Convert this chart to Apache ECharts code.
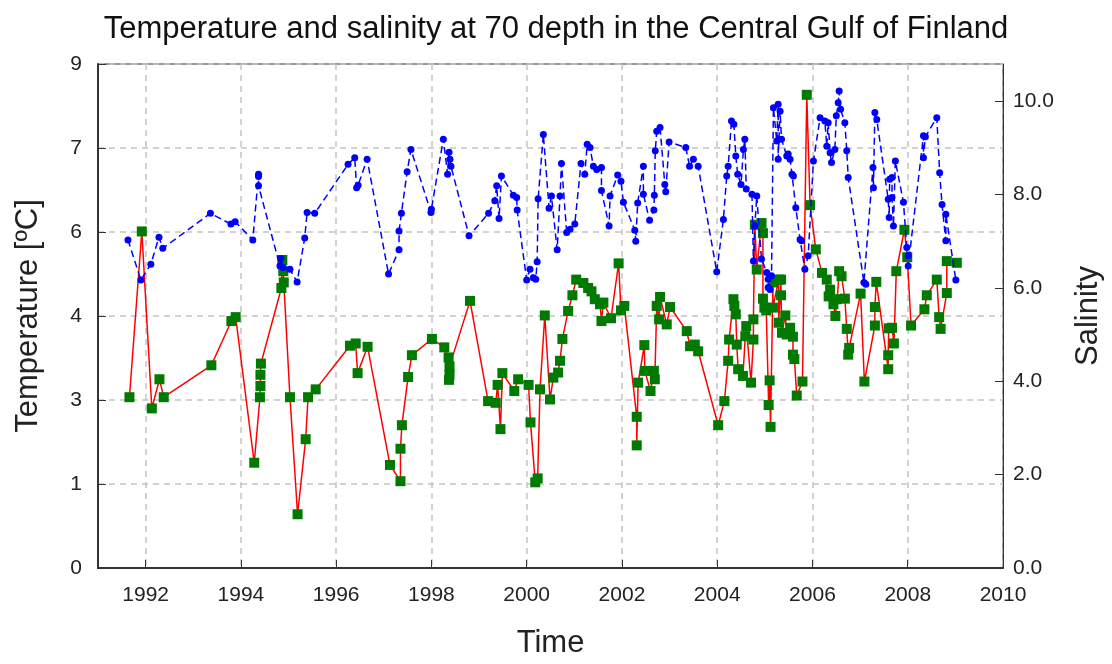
<!DOCTYPE html>
<html>
<head>
<meta charset="utf-8">
<title>Temperature and salinity at 70 depth</title>
<script src="https://cdn.jsdelivr.net/npm/echarts@6/dist/echarts.min.js"></script>
<style>
  html, body { margin: 0; padding: 0; background: #fff; }
  #chart { width: 1112px; height: 664px; }
</style>
</head>
<body>
<div id="chart"></div>
<script>
// temperature at 70 m  [year, degC]  -> left axis
var temperatureData = [
  [1991.66, 3.05], [1991.92, 6.01], [1992.13, 2.85], [1992.29, 3.37], [1992.38, 3.05],
  [1993.38, 3.62], [1993.80, 4.41], [1993.89, 4.48], [1994.28, 1.88],
  [1994.40, 3.05], [1994.41, 3.25], [1994.41, 3.45], [1994.42, 3.65],
  [1994.85, 5.00], [1994.87, 5.50], [1994.89, 5.30], [1994.90, 5.10],
  [1995.03, 3.05], [1995.19, 0.96], [1995.36, 2.30], [1995.41, 3.05], [1995.57, 3.19],
  [1996.29, 3.97], [1996.41, 4.01], [1996.45, 3.48], [1996.66, 3.95],
  [1997.13, 1.84], [1997.35, 1.55], [1997.35, 2.13], [1997.38, 2.55], [1997.51, 3.41], [1997.59, 3.80],
  [1998.01, 4.09], [1998.27, 3.94], [1998.36, 3.76], [1998.37, 3.36], [1998.38, 3.45], [1998.38, 3.60],
  [1998.81, 4.77], [1999.19, 2.98], [1999.35, 2.95], [1999.39, 3.27], [1999.45, 2.48], [1999.49, 3.48],
  [1999.74, 3.16], [1999.82, 3.37], [2000.04, 3.27], [2000.08, 2.60], [2000.18, 1.53], [2000.23, 1.60],
  [2000.28, 3.19], [2000.38, 4.51], [2000.49, 3.01], [2000.56, 3.40], [2000.66, 3.49], [2000.70, 3.70],
  [2000.75, 4.09], [2000.87, 4.59], [2000.96, 4.87], [2001.04, 5.15], [2001.19, 5.09], [2001.29, 5.00],
  [2001.36, 4.94], [2001.43, 4.80], [2001.54, 4.71], [2001.57, 4.41], [2001.61, 4.74], [2001.77, 4.46],
  [2001.93, 5.44], [2001.98, 4.60], [2002.05, 4.68], [2002.31, 2.70], [2002.31, 2.19], [2002.34, 3.31],
  [2002.47, 3.98], [2002.48, 3.52], [2002.60, 3.16], [2002.67, 3.52], [2002.69, 3.37], [2002.73, 4.68],
  [2002.78, 4.44], [2002.80, 4.84], [2002.94, 4.35], [2003.01, 4.66], [2003.36, 4.23], [2003.43, 3.96],
  [2003.53, 3.99], [2003.60, 3.87], [2004.02, 2.55], [2004.15, 2.98], [2004.23, 3.70], [2004.25, 4.08],
  [2004.34, 4.80], [2004.36, 4.68], [2004.39, 4.53], [2004.41, 3.99], [2004.44, 3.55], [2004.54, 3.43],
  [2004.59, 4.14], [2004.61, 4.32], [2004.71, 3.31], [2004.76, 4.08], [2004.76, 4.44], [2004.79, 6.13],
  [2004.83, 5.33], [2004.93, 6.16], [2004.96, 5.98], [2004.96, 4.81], [2004.99, 4.65], [2005.03, 4.60],
  [2005.08, 2.91], [2005.10, 3.35], [2005.12, 2.52], [2005.17, 5.10], [2005.17, 4.65], [2005.29, 5.15],
  [2005.29, 4.38], [2005.34, 5.15], [2005.34, 4.87], [2005.36, 4.20], [2005.43, 4.51], [2005.46, 4.17],
  [2005.53, 4.29], [2005.59, 4.13], [2005.59, 3.81], [2005.62, 3.73], [2005.67, 3.08], [2005.79, 3.33],
  [2005.88, 8.45], [2005.95, 6.48], [2006.07, 5.69], [2006.20, 5.27], [2006.30, 5.15], [2006.34, 4.85],
  [2006.37, 4.97], [2006.44, 4.71], [2006.48, 4.50], [2006.52, 4.80], [2006.56, 5.30], [2006.61, 5.21],
  [2006.68, 4.81], [2006.72, 4.27], [2006.75, 3.81], [2006.77, 3.93], [2007.01, 4.90], [2007.09, 3.33],
  [2007.31, 4.33], [2007.31, 4.66], [2007.34, 5.11], [2007.59, 3.55], [2007.59, 3.80], [2007.60, 4.28],
  [2007.67, 4.29], [2007.71, 4.01], [2007.76, 5.30], [2007.93, 6.04], [2007.99, 5.55], [2008.07, 4.33],
  [2008.35, 4.62], [2008.40, 4.87], [2008.61, 5.15], [2008.66, 4.48], [2008.69, 4.27], [2008.82, 4.91],
  [2008.82, 5.48], [2009.03, 5.45]
];

// salinity at 70 m  [year, psu]  -> right axis
var salinityData = [
  [1991.63, 7.03], [1991.90, 6.17], [1992.11, 6.51], [1992.28, 7.09], [1992.36, 6.85],
  [1993.36, 7.60], [1993.79, 7.37], [1993.88, 7.42], [1994.25, 7.03],
  [1994.37, 8.44], [1994.37, 8.39], [1994.37, 8.19], [1994.82, 6.47], [1994.84, 6.63], [1994.89, 6.44],
  [1995.03, 6.40], [1995.18, 6.13], [1995.34, 7.07], [1995.39, 7.62], [1995.55, 7.60],
  [1996.25, 8.65], [1996.39, 8.79], [1996.43, 8.15], [1996.46, 8.20], [1996.65, 8.76],
  [1997.10, 6.30], [1997.32, 6.82], [1997.32, 7.22], [1997.37, 7.60], [1997.49, 8.49], [1997.57, 8.97],
  [1997.99, 7.62], [1998.00, 7.69], [1998.25, 9.19], [1998.34, 8.44], [1998.37, 8.91], [1998.39, 8.76],
  [1998.41, 8.61], [1998.79, 7.12], [1999.20, 7.60], [1999.33, 7.87], [1999.37, 8.19], [1999.42, 7.49],
  [1999.47, 8.40], [1999.72, 7.99], [1999.79, 7.94], [1999.80, 7.67], [2000.00, 6.17], [2000.07, 6.40],
  [2000.14, 6.22], [2000.19, 6.19], [2000.22, 6.56], [2000.24, 7.91], [2000.35, 9.29], [2000.47, 7.71],
  [2000.52, 7.97], [2000.64, 6.82], [2000.70, 7.97], [2000.73, 8.67], [2000.84, 7.19], [2000.91, 7.26],
  [2001.01, 7.37], [2001.14, 8.67], [2001.22, 8.44], [2001.27, 9.08], [2001.33, 9.01], [2001.40, 8.61],
  [2001.47, 8.54], [2001.57, 8.58], [2001.57, 8.09], [2001.73, 7.33], [2001.75, 7.97], [2001.91, 8.42],
  [2001.98, 8.29], [2002.03, 7.84], [2002.27, 7.24], [2002.29, 7.00], [2002.33, 7.82], [2002.45, 8.61],
  [2002.45, 8.01], [2002.58, 7.45], [2002.67, 7.67], [2002.68, 7.99], [2002.70, 8.94], [2002.73, 9.36],
  [2002.80, 9.44], [2002.90, 8.22], [2002.92, 8.06], [2002.99, 9.13], [2003.34, 9.01], [2003.42, 8.61],
  [2003.50, 8.76], [2003.60, 8.61], [2003.99, 6.35], [2004.13, 7.47], [2004.20, 8.40], [2004.23, 8.61],
  [2004.30, 9.58], [2004.35, 9.51], [2004.39, 8.83], [2004.43, 8.44], [2004.50, 8.22], [2004.55, 8.97],
  [2004.58, 9.19], [2004.61, 8.12], [2004.73, 8.01], [2004.76, 6.58], [2004.79, 7.33], [2004.83, 7.97],
  [2004.93, 6.62], [2005.04, 6.33], [2005.07, 6.19], [2005.07, 6.01], [2005.11, 5.97], [2005.14, 6.26],
  [2005.18, 9.86], [2005.25, 9.15], [2005.28, 9.94], [2005.28, 8.76], [2005.32, 9.79], [2005.35, 9.19],
  [2005.46, 8.83], [2005.49, 8.87], [2005.53, 8.76], [2005.57, 8.44], [2005.60, 8.40], [2005.65, 7.72],
  [2005.74, 7.04], [2005.77, 7.01], [2005.84, 6.40], [2005.91, 6.69], [2006.02, 8.72], [2006.16, 9.65],
  [2006.26, 9.58], [2006.30, 9.04], [2006.33, 9.54], [2006.37, 8.90], [2006.40, 8.69], [2006.47, 8.97],
  [2006.50, 9.69], [2006.54, 9.97], [2006.56, 10.22], [2006.59, 9.83], [2006.68, 9.54], [2006.72, 8.94],
  [2006.75, 8.37], [2007.08, 6.12], [2007.12, 6.08], [2007.27, 8.58], [2007.28, 8.15], [2007.31, 9.76],
  [2007.35, 9.61], [2007.59, 7.90], [2007.61, 7.51], [2007.62, 8.33], [2007.67, 8.37], [2007.67, 7.94],
  [2007.70, 7.33], [2007.74, 8.72], [2007.91, 7.84], [2007.98, 6.87], [2008.01, 6.69], [2008.01, 6.47],
  [2008.33, 9.26], [2008.33, 8.79], [2008.37, 9.24], [2008.61, 9.65], [2008.67, 8.47], [2008.72, 7.79],
  [2008.80, 7.01], [2008.80, 7.58], [2009.01, 6.17]
];

var yearTicks = [1992, 1994, 1996, 1998, 2000, 2002, 2004, 2006, 2008, 2010];
var salinityTicks = [0, 2, 4, 6, 8, 10];

var FONT = '"Liberation Sans", Arial, sans-serif';
var gridDash = { color: '#c4c4c4', width: 1.5, type: [6, 5] };

var chart = echarts.init(document.getElementById('chart'));
chart.setOption({
  animation: false,
  backgroundColor: '#fff',
  textStyle: { fontFamily: FONT },
  title: {
    text: 'Temperature and salinity at 70 depth in the Central Gulf of Finland',
    left: 'center',
    top: 9,
    textStyle: { fontFamily: FONT, fontSize: 31, fontWeight: 'normal', color: '#111' }
  },
  grid: {
    left: 98, right: 109, top: 64, bottom: 95,
    show: true, borderColor: '#333', borderWidth: 1
  },
  xAxis: {
    type: 'value',
    min: 1991, max: 2010,
    name: 'Time',
    nameLocation: 'middle',
    nameGap: 60,
    nameTextStyle: { fontSize: 31, color: '#222' },
    axisLine: { show: true, onZero: false, lineStyle: { color: '#333', width: 2 } },
    axisTick: { inside: true, length: 8, customValues: yearTicks, lineStyle: { color: '#333' } },
    axisLabel: {
      customValues: yearTicks, fontSize: 21, color: '#222', margin: 17,
      formatter: function (v) { return String(v); }
    },
    splitLine: { show: true, lineStyle: gridDash }
  },
  yAxis: [
    {
      type: 'value',
      min: 0, max: 9, interval: 1.5,
      name: 'Temperature [ºC]',
      nameLocation: 'middle',
      nameRotate: 90,
      nameGap: 54,
      nameTextStyle: { fontSize: 31, color: '#222' },
      axisLine: { show: true, onZero: false, lineStyle: { color: '#333', width: 2 } },
      axisTick: { inside: true, length: 8, lineStyle: { color: '#333' } },
      axisLabel: {
        fontSize: 21, color: '#222', margin: 16,
        formatter: function (v) { return String(Math.floor(v + 1e-9)); }
      },
      splitLine: { show: true, lineStyle: gridDash }
    },
    {
      type: 'value',
      position: 'right',
      min: 0, max: 10.8,
      name: 'Salinity',
      nameLocation: 'middle',
      nameRotate: 90,
      nameGap: 70,
      nameTextStyle: { fontSize: 31, color: '#222' },
      axisLine: { show: true, lineStyle: { color: '#333', width: 1 } },
      axisTick: { inside: true, length: 8, customValues: salinityTicks, lineStyle: { color: '#333' } },
      axisLabel: {
        customValues: salinityTicks,
        fontSize: 21, color: '#222', margin: 10,
        formatter: function (v) { return v.toFixed(1); }
      },
      splitLine: { show: false }
    }
  ],
  series: [
    {
      name: 'Temperature',
      type: 'line',
      yAxisIndex: 0,
      data: temperatureData,
      symbol: 'rect',
      symbolSize: 10,
      itemStyle: { color: '#007a00' },
      lineStyle: { color: '#ff0000', width: 1.5 },
      z: 2
    },
    {
      name: 'Salinity',
      type: 'line',
      yAxisIndex: 1,
      data: salinityData,
      symbol: 'circle',
      symbolSize: 7,
      itemStyle: { color: '#0000ff' },
      lineStyle: { color: '#0000ff', width: 1.5, type: [7, 4] },
      z: 3
    }
  ]
});
</script>
</body>
</html>
